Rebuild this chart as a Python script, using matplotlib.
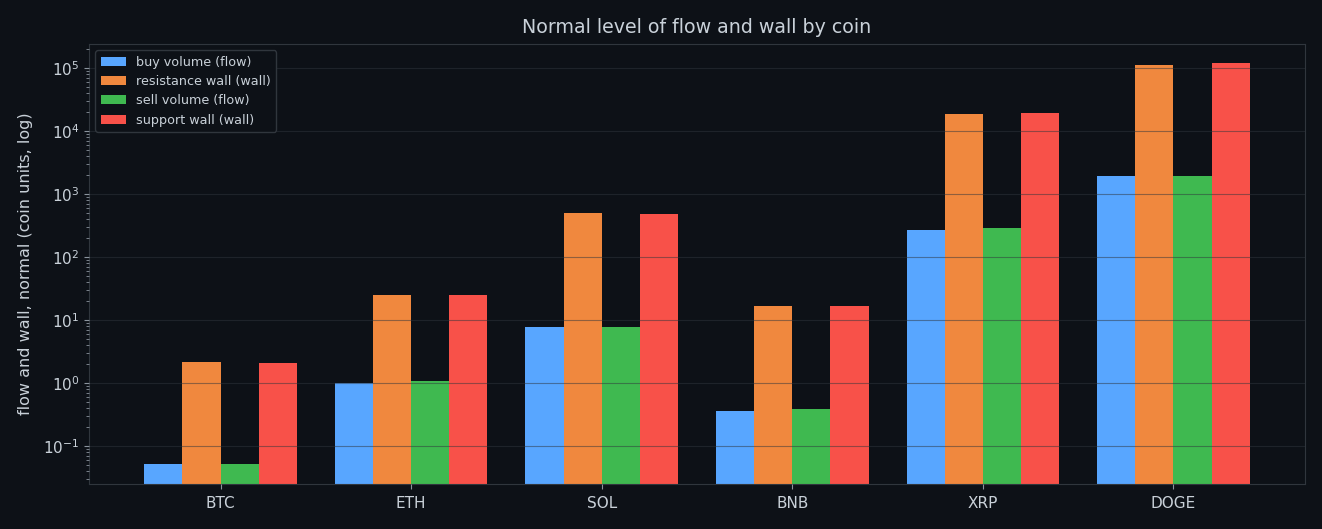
import matplotlib
matplotlib.use("Agg")
import matplotlib.pyplot as plt
import numpy as np

coins = ["BTC", "ETH", "SOL", "BNB", "XRP", "DOGE"]
buy_volume = [0.052, 0.99, 7.7, 0.36, 268, 1930]
resistance_wall = [2.15, 24.9, 500, 16.7, 18600, 111600]
sell_volume = [0.052, 1.076, 7.7, 0.39, 289, 1930]
support_wall = [2.08, 25.0, 482, 16.7, 19300, 120000]

series = [
    ("buy volume (flow)", buy_volume, "#58a6ff"),
    ("resistance wall (wall)", resistance_wall, "#f0883e"),
    ("sell volume (flow)", sell_volume, "#3fb950"),
    ("support wall (wall)", support_wall, "#f85149"),
]

BG = "#0d1117"
TEXT = "#c9d1d9"
EDGE = "#30363d"

fig = plt.figure(figsize=(13.22, 5.29), dpi=100, facecolor=BG)
ax = fig.add_axes([89/1322, 1 - 484/529, (1305-89)/1322, (484-44)/529])
ax.set_facecolor(BG)

x = np.arange(len(coins))
w = 0.2
for i, (label, vals, color) in enumerate(series):
    ax.bar(x + (i - 1.5) * w, vals, width=w, color=color, label=label, zorder=1)

ax.set_yscale("log")
ax.set_ylim(0.0249, 2.4e5)
ax.set_xticks(x)
ax.set_xticklabels(coins)

ax.grid(True, axis="y", which="major", color="#30363d", alpha=0.5, linewidth=0.8, zorder=2)
ax.set_axisbelow(False)

for s in ax.spines.values():
    s.set_color(EDGE)
ax.tick_params(colors=TEXT, labelsize=11, which="both")
ax.tick_params(axis="y", which="both", color="#8b949e")
ax.tick_params(axis="x", color="#8b949e", pad=5)

ax.set_title("Normal level of flow and wall by coin", color=TEXT, fontsize=13.7, pad=8)
ax.set_ylabel("flow and wall, normal (coin units, log)", color=TEXT, fontsize=11.5, labelpad=7)

leg = ax.legend(loc="upper left", fontsize=9.2, facecolor=BG, edgecolor=EDGE, framealpha=1)
for t in leg.get_texts():
    t.set_color(TEXT)

fig.savefig("out.png", dpi=100, facecolor=BG)
